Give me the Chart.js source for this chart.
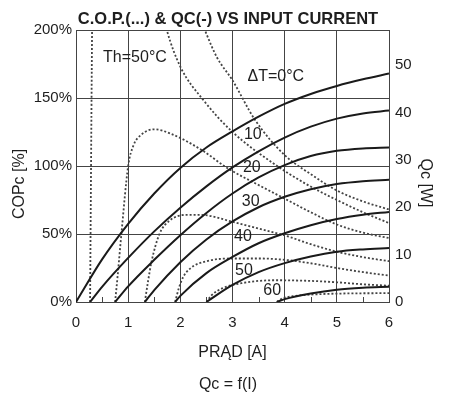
<!DOCTYPE html>
<html><head><meta charset="utf-8">
<script src="https://cdn.jsdelivr.net/npm/chart.js@4.4.1/dist/chart.umd.min.js"></script>
<style>html,body{margin:0;padding:0;background:#fff;}canvas{display:block;}</style>
</head><body>
<canvas id="c" width="456" height="394"></canvas>
<script>
// ---- tick labels ----
const xTicks = [0, 1, 2, 3, 4, 5, 6];
const minorXTicks = [0.5, 1.5, 2.5, 3.5, 4.5, 5.5];
const copTicks = [0, 50, 100, 150, 200];
const qcTicks = [0, 10, 20, 30, 40, 50];
const deltaT = [0, 10, 20, 30, 40, 50, 60];

// ---- Qc [W] vs current [A] (solid) : [I, Qc] ----
const qcDT0  = [[0,0],[0.5,9],[1,16.5],[1.5,22.9],[2,28.3],[2.5,32.6],[3,36.0],[3.5,39.1],[4,41.8],[4.5,43.9],[5,45.6],[5.5,47.0],[6,48.2]];
const qcDT10 = [[0.27,0],[0.5,3.2],[1,9.3],[1.5,14.9],[2,19.9],[2.5,24.4],[3,28.4],[3.5,31.8],[4,34.7],[4.5,37.0],[5,38.7],[5.5,39.8],[6,40.4]];
const qcDT20 = [[0.75,0],[1,3.3],[1.5,8.9],[2,14.1],[2.5,18.8],[3,22.9],[3.5,26.3],[4,28.9],[4.5,30.8],[5,31.9],[5.5,32.4],[6,32.6]];
const qcDT30 = [[1.32,0],[1.5,2.5],[2,8.4],[2.5,13.2],[3,17.0],[3.5,20.0],[4,22.2],[4.5,23.8],[5,24.9],[5.5,25.5],[6,25.8]];
const qcDT40 = [[1.9,0],[2,1.3],[2.5,6.1],[3,9.5],[3.5,12.4],[4,14.5],[4.5,16.2],[5,17.5],[5.5,18.4],[6,19.0]];
const qcDT50 = [[2.5,0],[3,3.6],[3.5,6.3],[4,8.2],[4.5,9.6],[5,10.6],[5.5,11.1],[6,11.4]];
const qcDT60 = [[3.85,0],[4,0.6],[4.5,1.8],[5,2.6],[5.5,3.0],[6,3.2]];

// ---- COP [%] vs current [A] (dotted) : [I, COP] (null = off-scale gap) ----
const copDT0  = [[2.4,207],[2.47,200],[2.7,180],[3,163],[3.43,134],[4,108],[4.5,94],[5,82],[5.5,74],[6,68]];
const copDT10 = [[0.27,0],[0.283,70],[0.296,140],[0.31,210],[1,null],[1.68,210],[1.74,200],[2,173],[2.43,149],[3,125],[3.78,102],[4.4,87],[5,75],[5.5,66],[6,58]];
const copDT20 = [[0.75,0],[0.8,20],[0.87,50],[1.0,100],[1.1,115],[1.25,123],[1.5,127],[1.8,124],[2.4,112],[2.9,98.5],[3.5,86],[4,76],[4.5,66],[5,57],[5.5,51],[6,47]];
const copDT30 = [[1.32,0],[1.38,15],[1.45,30],[1.6,50],[1.8,60],[2.1,64],[2.4,64],[3,59],[3.5,54],[4,49],[4.5,42.5],[5,37],[5.5,33],[6,30]];
const copDT40 = [[1.9,0],[1.97,10],[2.05,18],[2.2,25],[2.5,30],[3,32],[3.5,32],[4,31],[4.5,28.5],[5,25],[5.5,22],[6,19.5]];
const copDT50 = [[2.5,0],[2.6,5],[2.8,10],[3.2,14],[3.8,16],[4.5,15.5],[5,14.5],[5.5,13],[6,12]];
const copDT60 = [[3.85,0],[3.95,2.5],[4.2,4.5],[4.7,5.8],[5.2,6.3],[6,6.5]];

const qcSeries = [qcDT0, qcDT10, qcDT20, qcDT30, qcDT40, qcDT50, qcDT60];
const copSeries = [copDT0, copDT10, copDT20, copDT30, copDT40, copDT50, copDT60];

// ---- text annotations (placed in data coordinates of x / COP axis) ----
const notes = [
  {t:'Th=50°C', x:1.13, y:179.4},
  {t:'ΔT=0°C', x:3.83, y:165.4},
  {t:'10', x:3.39, y:122.8},
  {t:'20', x:3.37, y:98.5},
  {t:'30', x:3.35, y:73.5},
  {t:'40', x:3.2, y:47.8},
  {t:'50', x:3.22, y:22.8},
  {t:'60', x:3.76, y:8.1}
];

const FONT = '"Liberation Sans", Arial, Helvetica, sans-serif';
const INK = '#1e1e1e';
const GRID = '#444';

const toPts = a => a.map(([x, y]) => ({x, y}));
const datasets = [];
qcSeries.forEach((s, i) => datasets.push({
  label: 'Qc ΔT=' + deltaT[i], data: toPts(s), yAxisID: 'y2',
  borderColor: '#1a1a1a', borderWidth: 2, pointRadius: 0, fill: false,
  cubicInterpolationMode: 'monotone'
}));
copSeries.forEach((s, i) => datasets.push({
  label: 'COP ΔT=' + deltaT[i], data: toPts(s), yAxisID: 'y',
  borderColor: '#444', borderWidth: 1.8, borderDash: [2, 2], pointRadius: 0, fill: false,
  cubicInterpolationMode: 'monotone', spanGaps: false
}));

const decor = {
  id: 'decor',
  beforeDatasetsDraw(chart) {
    const {ctx, scales: {x}, chartArea: ca} = chart;
    ctx.save();
    ctx.strokeStyle = GRID; ctx.lineWidth = 1;
    minorXTicks.forEach(v => {
      const px = Math.round(x.getPixelForValue(v)) + 0.5;
      ctx.beginPath(); ctx.moveTo(px, ca.bottom); ctx.lineTo(px, ca.bottom - 5); ctx.stroke();
    });
    ctx.restore();
  },
  afterDatasetsDraw(chart) {
    const {ctx, scales: {x, y}, chartArea: ca} = chart;
    ctx.save();
    ctx.fillStyle = INK; ctx.textAlign = 'center'; ctx.textBaseline = 'middle';
    ctx.font = '16px ' + FONT;
    notes.forEach(n => ctx.fillText(n.t, x.getPixelForValue(n.x), y.getPixelForValue(n.y)));
    // axis titles
    const mid = (ca.top + ca.bottom) / 2 + 18;
    ctx.save(); ctx.translate(20, mid); ctx.rotate(-Math.PI / 2); ctx.fillText('COPc [%]', 0, 0); ctx.restore();
    ctx.save(); ctx.translate(ca.right + 36, mid - 1); ctx.rotate(Math.PI / 2); ctx.fillText('Qc [W]', 0, 0); ctx.restore();
    ctx.restore();
  }
};

new Chart(document.getElementById('c'), {
  type: 'line',
  data: {datasets},
  plugins: [decor],
  options: {
    responsive: false, animation: false, devicePixelRatio: 1,
    layout: {padding: 0},
    plugins: {
      legend: {display: false}, tooltip: {enabled: false},
      title: {display: true, text: 'C.O.P.(...) & QC(-) VS INPUT CURRENT', color: INK,
        font: {family: FONT, size: 16.5, weight: 'bold', lineHeight: 1}, padding: {top: 11, bottom: 2.5}},
      subtitle: {display: true, position: 'bottom', text: 'Qc = f(I)', color: INK,
        font: {family: FONT, size: 16, lineHeight: 1.2}, padding: {top: 4, bottom: 0}}
    },
    scales: {
      x: {
        type: 'linear', min: 0, max: 6,
        afterBuildTicks: s => { s.ticks = xTicks.map(v => ({value: v})); },
        afterFit: s => { s.height = 68.8; },
        grid: {color: GRID, lineWidth: 1, drawTicks: false},
        border: {display: true, color: GRID, width: 1},
        ticks: {color: INK, font: {family: FONT, size: 15}, padding: 12},
        title: {display: true, text: 'PRĄD [A]', color: INK, font: {family: FONT, size: 16, lineHeight: 1.2}, padding: {top: 0, bottom: 8.2}}
      },
      y: {
        type: 'linear', position: 'left', min: 0, max: 200,
        afterBuildTicks: s => { s.ticks = copTicks.map(v => ({value: v})); },
        afterFit: s => { s.width = 76; },
        grid: {color: GRID, lineWidth: 1, drawTicks: false},
        border: {display: true, color: GRID, width: 1},
        ticks: {color: INK, font: {family: FONT, size: 15}, padding: 4, callback: v => v + '%'}
      },
      y2: {
        type: 'linear', position: 'right', min: 0, max: 57.4,
        afterBuildTicks: s => { s.ticks = qcTicks.map(v => ({value: v})); },
        afterFit: s => { s.width = 67; },
        grid: {drawOnChartArea: false, drawTicks: false},
        border: {display: true, color: GRID, width: 1},
        ticks: {color: INK, font: {family: FONT, size: 15}, padding: 6}
      }
    }
  }
});
</script>
</body></html>
